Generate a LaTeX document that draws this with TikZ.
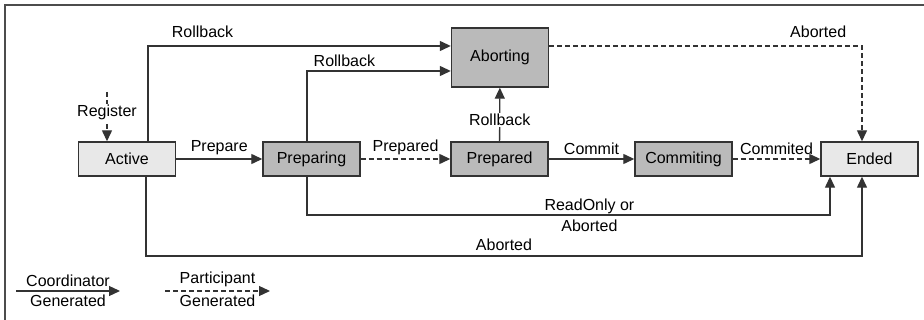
\documentclass[tikz,border=0pt]{standalone}
\usepackage{fontspec}
\setmainfont{Liberation Sans}
\usetikzlibrary{arrows.meta}

\begin{document}
\begin{tikzpicture}[
    x=1pt, y=-1pt,
    font=\fontsize{16}{18}\selectfont,
    state/.style={rectangle, draw=black!80, line width=1.4pt, minimum width=97pt, minimum height=34pt, inner sep=0pt},
    idle/.style={state, fill=black!9},
    busy/.style={state, fill=black!27},
    coord/.style={-{Triangle[length=11pt,width=10pt]}, draw=black!80, line width=1.3pt},
    part/.style={coord, dash pattern=on 5pt off 3pt}
  ]
    \useasboundingbox (0,0) rectangle (924,320);

    % Frame (top and left edges only)
    \draw[black!70, line width=1.4pt] (5,320) -- (5,5) -- (924,5);

    % States
    \node[idle] (active) at (127,159) {Active};
    \node[busy] (preparing) at (311.5,159) {Preparing};
    \node[busy] (prepared) at (499.5,159) {Prepared};
    \node[busy, minimum height=59pt] (aborting) at (500,57.5) {Aborting};
    \node[busy] (commiting) at (683.5,159) {Commiting};
    \node[idle] (ended) at (869.5,159) {Ended};

    % Lanes for the routed connectors
    \coordinate (regstart) at (107,92);
    \coordinate (rbA) at (148,46);
    \coordinate (rbB) at (307,71);
    \coordinate (abE) at (862,46);
    \coordinate (roE) at (830,215);
    \coordinate (abW) at (146,256);
    \coordinate (abS) at (862,256);

    % Main line
    \draw[part] (regstart) -- (regstart |- active.north) node[pos=0.42, fill=white, inner sep=1pt] {Register};
    \draw[coord] (active) -- (preparing) node[midway, above] {Prepare};
    \draw[part] (preparing) -- (prepared) node[midway, above] {Prepared};
    \draw[coord] (prepared) -- (commiting) node[midway, above] {Commit};
    \draw[part] (commiting) -- (ended) node[midway, above] {Commited};

    % Rollback paths
    \draw[coord] (active.north -| rbA) |- (aborting.west |- rbA) node[pos=0.59, above=4pt] {Rollback};
    \draw[coord] (preparing.north -| rbB) |- (aborting.west |- rbB) node[pos=0.63, above=0pt] {Rollback};
    \draw[coord] (prepared) -- (aborting) node[pos=0.4, fill=white, inner sep=1pt] {Rollback};

    % Paths to Ended
    \draw[part] (aborting.east |- abE) -| (ended.north -| abE) node[pos=0.43, above=4pt] {Aborted};
    \draw[coord] (preparing.south -| rbB) |- (roE) node[pos=0.77, align=center] {ReadOnly or\\[3pt]Aborted} -- (ended.south -| roE);
    \draw[coord] (active.south -| abW) |- (abS) node[pos=0.75, above=1pt] {Aborted} -- (ended.south -| abS);

    % Legend
    \coordinate (legA) at (16,291);
    \coordinate (legB) at (120,291);
    \coordinate (legC) at (165,291);
    \coordinate (legD) at (270,291);
    \draw[coord] (legA) -- (legB) node[midway, above] {Coordinator} node[midway, below] {Generated};
    \draw[part] (legC) -- (legD) node[midway, above] {Participant} node[midway, below] {Generated};
  \end{tikzpicture}
\end{document}
